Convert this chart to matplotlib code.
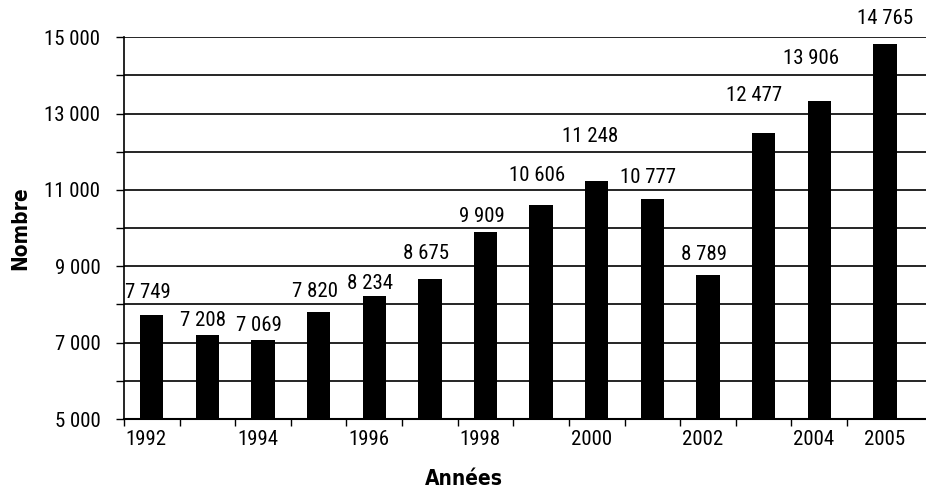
import numpy as np
import matplotlib
matplotlib.use('Agg')
import matplotlib.pyplot as plt
from matplotlib.ticker import MultipleLocator, FuncFormatter

# data (labels printed on the chart, and bar heights as drawn)
years = ['1992', '1993', '1994', '1995', '1996', '1997', '1998',
         '1999', '2000', '2001', '2002', '2003', '2004', '2005']
values = [7749, 7208, 7069, 7820, 8234, 8675, 9909,
          10606, 11248, 10777, 8789, 12477, 13906, 14765]
heights = [7725, 7201, 7069, 7803, 8222, 8668, 9907,
           10606, 11235, 10763, 8773, 12500, 13339, 14824]
shown_years = ['1992', '1994', '1996', '1998', '2000', '2002', '2004', '2005']

# label gap above each bar (pixels), as placed in the original
gap_px = [13, 5, 5, 11, 3, 16, 6, 20, 35, 12, 11, 28, 33, 16]
dx_px = [-4, -4, -4, -4, -4, -4, -4, -4, -7, -4, -4, -10, -8, 0]

plt.rcParams['font.family'] = ['Roboto Condensed', 'Archivo Narrow', 'DejaVu Sans']
FS = 15

fig = plt.figure(figsize=(9.26, 4.9), dpi=100)
ax = fig.add_axes([124 / 926, 1 - 419 / 490, 1 - 124 / 926, (419 - 37.3) / 490])

x = np.arange(len(years), dtype=float)
x[-1] += 0.18  # last bar sits a bit further right in the original

ax.bar(x, heights, width=0.42, color='black', zorder=3)

px = 72 / 100
for xi, h, v, g, d in zip(x, heights, values, gap_px, dx_px):
    lab = f'{v:,}'.replace(',', ' ')
    ax.annotate(lab, (xi, h), xytext=(d * px, g * px), textcoords='offset points',
                ha='center', va='bottom', fontsize=FS, zorder=4)

ax.set_ylim(5000, 15000)
ax.set_xlim(-0.5, 13.92)
ax.yaxis.set_minor_locator(MultipleLocator(1000))
ax.yaxis.set_major_formatter(FuncFormatter(lambda v, p: f'{int(v):,}'.replace(',', ' ')))
ax.set_yticks(np.arange(5000, 15001, 2000))
ax.grid(axis='y', which='both', color='black', linewidth=1.2, zorder=1)
ax.tick_params(axis='y', which='both', length=6, width=1, labelsize=FS, pad=11)

ax.set_xticks(np.arange(-0.5, 13, 1), minor=True)
pos = [x[years.index(y)] - (0.1 if y != '2005' else 0) for y in shown_years]
ax.set_xticks(pos)
ax.set_xticklabels(shown_years)
ax.tick_params(axis='x', which='major', length=0, labelsize=FS, pad=8)
ax.tick_params(axis='x', which='minor', length=5, width=1)

for s in ['top', 'right']:
    ax.spines[s].set_visible(False)
ax.spines['left'].set_linewidth(1.2)
ax.spines['bottom'].set_linewidth(1.5)

title_kw = dict(fontsize=15, fontweight='bold', family='DejaVu Sans', fontstretch='condensed')
ax.set_ylabel('Nombre', **title_kw)
ax.yaxis.set_label_coords(-(124 - 30) / (926 - 124), 0.5)
ax.set_xlabel('Années', **title_kw)
ax.xaxis.set_label_coords((464 - 124) / (926 - 124), -(469 - 419) / 381.7)

fig.savefig('out.png', dpi=100)
